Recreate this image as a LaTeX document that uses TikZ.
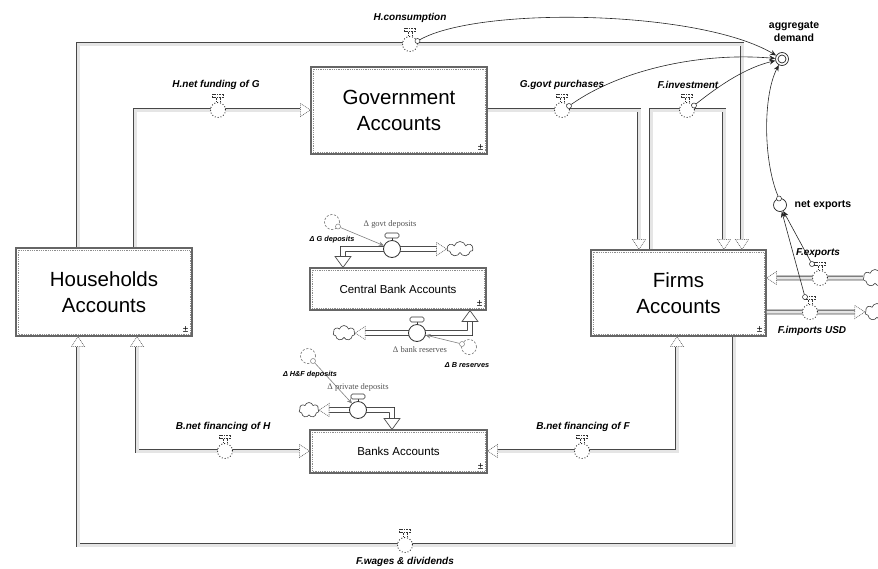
\documentclass[tikz,border=0pt]{standalone}
\usepackage{fontspec}
\setmainfont{Liberation Sans}
\newfontfamily\serifface{Liberation Serif}
\usetikzlibrary{arrows.meta,shapes.symbols,calc}

\tikzset{
  acct/.style={draw=black!60, line width=1.1pt, fill=white, inner sep=0pt, align=center, text=black},
  bigtxt/.style={font=\fontsize{20.5}{25.5}\selectfont},
  midtxt/.style={font=\fontsize{11.5}{14}\selectfont},
  pipe/.style={draw=black!72, line width=0.8pt, double=black!10, double distance=3pt},
  cbpipe/.style={draw=black!80, line width=0.8pt, double=white, double distance=4.2pt},
  mvalve/.style={circle, draw=black!85, dotted, line width=0.9pt, fill=white, minimum size=15pt, inner sep=0pt},
  cvalve/.style={circle, draw=black!80, line width=0.8pt, fill=white, minimum size=17pt, inner sep=0pt},
  conv/.style={circle, draw=black!55, dash pattern=on 2.2pt off 1.6pt, line width=0.6pt, minimum size=15pt, inner sep=0pt},
  tap/.style={circle, draw=black!85, line width=0.5pt, fill=white, minimum size=5pt, inner sep=0pt},
  gtap/.style={tap, draw=black!50},
  sky/.style={cloud, cloud puffs=7, draw=black!75, line width=0.6pt, fill=white, minimum width=22pt, minimum height=15pt, inner sep=0pt},
  aux/.style={circle, draw=black!85, line width=0.7pt, fill=white, minimum size=13pt, inner sep=0pt},
  flowlbl/.style={font=\fontsize{10}{12}\selectfont\bfseries\itshape, inner sep=1pt},
  auxlbl/.style={font=\fontsize{10.5}{13}\selectfont\bfseries, align=center, inner sep=1pt},
  dlbl/.style={font=\fontsize{7.3}{9}\selectfont\bfseries\itshape, inner sep=1pt},
  glbl/.style={font=\serifface\fontsize{8.5}{10}\selectfont, text=black!68, inner sep=1pt},
  pm/.style={font=\fontsize{10}{10}\selectfont, inner sep=0pt},
  link/.style={draw=black!85, line width=0.6pt, -{Stealth[length=6pt,width=5pt]}},
  glink/.style={draw=black!50, line width=0.6pt, -{Stealth[length=5pt,width=4.5pt]}},
  parr/.pic={\draw[black!55, densely dotted, line width=0.8pt, fill=white] (-10,-6.5) -- (0,0) -- (-10,6.5) -- cycle;},
  barr/.pic={\draw[black!70, line width=0.7pt, fill=white] (-11,-8) -- (0,0) -- (-11,8) -- cycle;},
  mhandle/.pic={
    \draw[black!80, densely dotted, line width=0.6pt] (-5.5,-16) rectangle (5.5,-12.5);
    \draw[black!80, densely dotted, line width=0.6pt] (-2,-12.5) -- (-2,-8) (2,-12.5) -- (2,-8);},
  chandle/.pic={
    \draw[black!80, line width=0.6pt] (0,-8.5) -- (0,-11);
    \draw[black!80, line width=0.6pt, fill=white, rounded corners=1.5pt] (-7,-16) rectangle (7,-11);},
}

\newcommand\innerframe[1]{%
  \draw[black!45, densely dotted, line width=0.8pt]
    ([shift={(2.6pt,-2.6pt)}]#1.north west) rectangle ([shift={(-2.6pt,2.6pt)}]#1.south east);
  \node[pm] at ([shift={(-7pt,7.5pt)}]#1.south east) {±};}

\begin{document}
\begin{tikzpicture}[x=1pt, y=-1pt]
\useasboundingbox (0,0) rectangle (878,568);

% ---- sector accounts ----
\node[acct, bigtxt, minimum width=176pt, minimum height=87pt] (gov) at (399,110.5) {Government\\Accounts};
\node[acct, midtxt, minimum width=176pt, minimum height=42pt] (cb) at (398,289) {Central Bank Accounts};
\node[acct, bigtxt, minimum width=176pt, minimum height=88pt] (hh) at (104,292) {Households\\Accounts};
\node[acct, bigtxt, minimum width=175pt, minimum height=86pt] (firms) at (678.5,293) {Firms\\Accounts};
\node[acct, midtxt, minimum width=177pt, minimum height=43pt] (banks) at (398.5,451.5) {Banks Accounts};
\innerframe{gov}
\innerframe{cb}
\innerframe{hh}
\innerframe{firms}
\innerframe{banks}

% ---- pipe corners ----
\coordinate (hcA) at (78,44);
\coordinate (hcB) at (742,44);
\coordinate (nfA) at (135,110);
\coordinate (gpA) at (639,110);
\coordinate (fiA) at (651,110);
\coordinate (fiB) at (724,110);
\coordinate (fwA) at (734,545);
\coordinate (fwB) at (78,545);
\coordinate (nhA) at (137,451);
\coordinate (nfB) at (677,451);
\coordinate (gdA) at (343,249);
\coordinate (brA) at (470,333);
\coordinate (pdA) at (392,410);

% ---- clouds ----
\node[sky, minimum width=24pt, minimum height=17pt] (cEx) at (875,278) {};
\node[sky, minimum width=24pt, minimum height=17pt] (cIm) at (877,312) {};
\node[sky, minimum width=26pt, minimum height=15pt] (cGd) at (460,249) {};
\node[sky] (cBr) at (344,333) {};
\node[sky, minimum width=20pt] (cPd) at (309,410) {};

% ---- stock flows ----
% H.consumption
\draw[pipe] (hh.north -| hcA) -- (hcA) -- (hcB) -- ($(firms.north -| hcB)+(0,-10)$);
\pic[rotate=-90] at (firms.north -| hcB) {parr};
% H.net funding of G
\draw[pipe] (hh.north -| nfA) -- (nfA) -- ($(nfA -| gov.west)+(-10,0)$);
\pic at (nfA -| gov.west) {parr};
% G.govt purchases
\draw[pipe] (gov.east |- gpA) -- (gpA) -- ($(firms.north -| gpA)+(0,-10)$);
\pic[rotate=-90] at (firms.north -| gpA) {parr};
% F.investment
\draw[pipe] (firms.north -| fiA) -- (fiA) -- (fiB) -- ($(firms.north -| fiB)+(0,-10)$);
\pic[rotate=-90] at (firms.north -| fiB) {parr};
% F.wages & dividends
\draw[pipe] (firms.south -| fwA) -- (fwA) -- (fwB) -- ($(hh.south -| fwB)+(0,10)$);
\pic[rotate=90] at (hh.south -| fwB) {parr};
% B.net financing of H
\draw[pipe] ($(hh.south -| nhA)+(0,10)$) -- (nhA) -- ($(nhA -| banks.west)+(-10,0)$);
\pic[rotate=90] at (hh.south -| nhA) {parr};
\pic at (nhA -| banks.west) {parr};
% B.net financing of F
\draw[pipe] ($(firms.south -| nfB)+(0,10)$) -- (nfB) -- ($(nfB -| banks.east)+(10,0)$);
\pic[rotate=90] at (firms.south -| nfB) {parr};
\pic[rotate=180] at (nfB -| banks.east) {parr};
% F.exports
\draw[pipe] (cEx.west) -- ($(firms.east |- cEx)+(10,0)$);
\pic[rotate=180] at (firms.east |- cEx) {parr};
% F.imports USD
\draw[pipe] (firms.east |- cIm) -- ($(cIm.west)+(-10,0)$);
\pic at (cIm.west) {parr};
% central bank and bank deposit flows
\draw[cbpipe] ($(cGd.west)+(-10,0)$) -- (gdA) -- ($(cb.north -| gdA)+(0,-10)$);
\pic at (cGd.west) {parr};
\pic[rotate=-90] at (cb.north -| gdA) {barr};
\draw[cbpipe] ($(cBr.east)+(10,0)$) -- (brA) -- ($(cb.south -| brA)+(0,10)$);
\pic[rotate=180] at (cBr.east) {parr};
\pic[rotate=90] at (cb.south -| brA) {barr};
\draw[cbpipe] ($(cPd.east)+(10,0)$) -- (pdA) -- ($(banks.north -| pdA)+(0,-10)$);
\pic[rotate=180] at (cPd.east) {parr};
\pic[rotate=-90] at (banks.north -| pdA) {barr};

% ---- valves ----
\node[mvalve] (vHC) at (410,44) {};   \pic at (vHC) {mhandle};
\node[mvalve] (vNF) at (218,110) {};  \pic at (vNF) {mhandle};
\node[mvalve] (vGP) at (562,110) {};  \pic at (vGP) {mhandle};
\node[mvalve] (vFI) at (687,110) {};  \pic at (vFI) {mhandle};
\node[mvalve] (vFW) at (405,545) {};  \pic at (vFW) {mhandle};
\node[mvalve] (vNH) at (225,451) {};  \pic at (vNH) {mhandle};
\node[mvalve] (vNB) at (582,451) {};  \pic at (vNB) {mhandle};
\node[mvalve] (vFE) at (820,278) {};  \pic at (vFE) {mhandle};
\node[mvalve] (vFM) at (810,312) {};  \pic at (vFM) {mhandle};
\node[cvalve] (vGD) at (392,249) {};  \pic at (vGD) {chandle};
\node[cvalve] (vBR) at (417,333) {};  \pic at (vBR) {chandle};
\node[cvalve] (vPD) at (358,410) {};  \pic at (vPD) {chandle};

% ---- converters ----
\node[conv] (kGD) at (332,222) {};
\node[conv] (kBR) at (469,347) {};
\node[conv] (kHF) at (308,356) {};
\node[gtap] (tGD) at (338,226.5) {};
\node[gtap] (tBR) at (462,344) {};
\node[gtap] (tHF) at (313,361) {};

% ---- auxiliaries ----
\node[aux] (ad) at (782,59) {};
\draw[black!85, line width=0.7pt] (ad.center) circle (4pt);
\node[aux] (nx) at (780,205) {};

% ---- taps on valves ----
\node[tap] (tHC) at (417.5,41) {};
\node[tap] (tGP) at (569,106) {};
\node[tap] (tFI) at (694,105.5) {};
\node[tap] (tNX) at (779,198.5) {};
\node[tap] (tFE) at (812,264) {};
\node[tap] (tFM) at (805,297) {};

% ---- information links ----
\draw[link] (tHC) .. controls (480,6) and (700,10) .. (ad);
\draw[link] (tGP) .. controls (620,70) and (700,52) .. (ad);
\draw[link] (tFI) .. controls (720,85) and (745,68) .. (ad);
\draw[link] (tNX) .. controls (763,160) and (763,95) .. (ad);
\draw[link] (tFE) -- (nx);
\draw[link] (tFM) -- (nx);
\draw[glink] (tGD) -- (vGD);
\draw[glink] (tBR) -- (vBR);
\draw[glink] (tHF) -- (vPD);

% ---- labels ----
\node[flowlbl] (lHC) at (410,18) {H.consumption};
\node[flowlbl] (lNF) at (216,85) {H.net funding of G};
\node[flowlbl] (lGP) at (562,85) {G.govt purchases};
\node[flowlbl] (lFI) at (688,85) {F.investment};
\node[flowlbl] (lNH) at (223,427) {B.net financing of H};
\node[flowlbl] (lNB) at (583,427) {B.net financing of F};
\node[flowlbl] (lFW) at (405,562) {F.wages \& dividends};
\node[flowlbl] (lFE) at (818,253) {F.exports};
\node[flowlbl] (lFM) at (812,331) {F.imports USD};
\node[auxlbl] (lNX) at (823,205.5) {net exports};
\node[auxlbl] (lAD) at (794,31.5) {aggregate\\demand};
\node[glbl] (lGD) at (390,224) {Δ govt deposits};
\node[dlbl] (lGDk) at (332,239.5) {Δ G deposits};
\node[glbl] (lBR) at (420,350) {Δ bank reserves};
\node[dlbl] (lBRk) at (467,365.5) {Δ B reserves};
\node[dlbl] (lHFk) at (310,375) {Δ H\&F deposits};
\node[glbl] (lPD) at (358,387) {Δ private deposits};
\end{tikzpicture}
\end{document}
